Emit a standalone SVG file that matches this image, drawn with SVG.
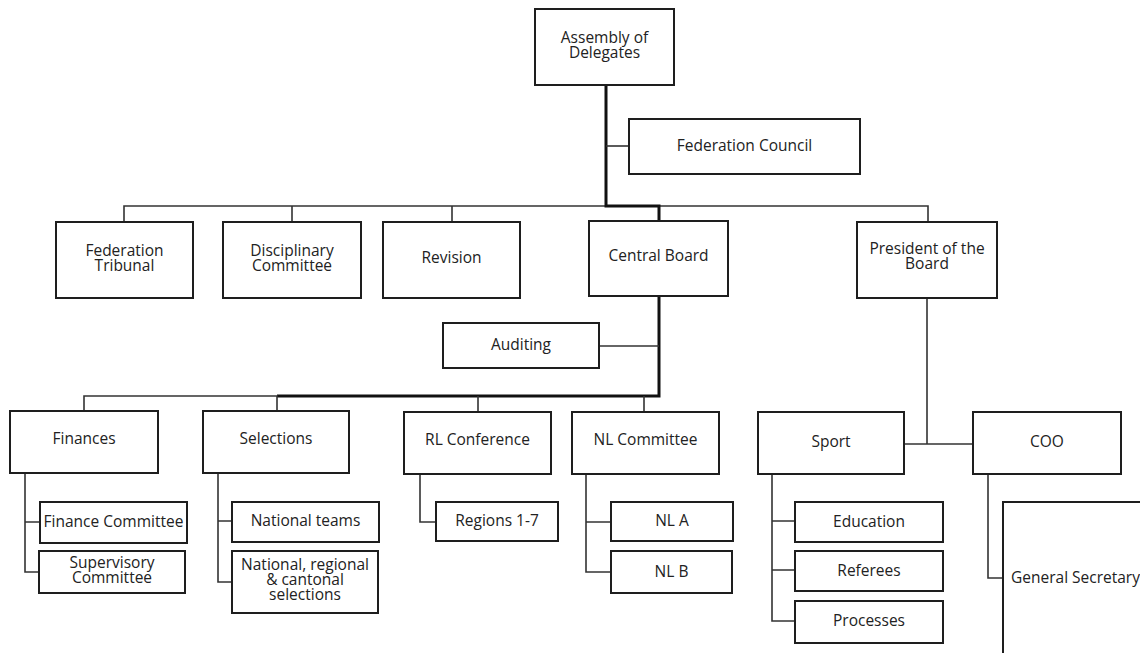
<svg xmlns="http://www.w3.org/2000/svg" width="1140" height="653" viewBox="0 0 1140 653">
<style>
.b{fill:#fff;stroke:#1e1e1e;stroke-width:2}
.t{font-family:"Open Sans","Noto Sans","DejaVu Sans",sans-serif;font-size:15.5px;fill:#222;text-anchor:middle}
.tl{font-family:"Open Sans","Noto Sans","DejaVu Sans",sans-serif;font-size:15.5px;fill:#222}
.c{fill:none;stroke:#333;stroke-width:1.6}
.k{fill:none;stroke:#111;stroke-width:3}
</style>
<rect width="1140" height="653" fill="#fff"/>
<g id="connectors">
<path class="c" d="M124,222V206H606M659,206H928V222M292,206V222M452,206V222"/>
<path class="k" d="M606,85V206H659V221"/>
<path class="c" d="M606,146H629"/>
<path class="k" d="M659,296V396H277"/>
<path class="c" d="M599,346H659"/>
<path class="c" d="M84,411V396H277V411M478,396V412M644,396V412"/>
<path class="c" d="M25,473V572H39M25,522H40"/>
<path class="c" d="M218,473V582H232M218,521H232"/>
<path class="c" d="M420,474V522H436"/>
<path class="c" d="M586,474V572H611M586,522H611"/>
<path class="c" d="M927,298V444M904,444H973"/>
<path class="c" d="M772,474V621H795M772,521H795M772,570H795"/>
<path class="c" d="M988,474V578H1003"/>
</g>
<g id="assembly"><rect class="b" x="535" y="9" width="139" height="76"/><text class="t" x="604.5" y="43">Assembly of<tspan x="604.5" dy="15">Delegates</tspan></text></g>
<g id="federation-council"><rect class="b" x="629" y="119" width="231" height="55"/><text class="t" x="744.5" y="151">Federation Council</text></g>
<g id="federation-tribunal"><rect class="b" x="56" y="222" width="137" height="76"/><text class="t" x="124.5" y="256">Federation<tspan x="124.5" dy="15">Tribunal</tspan></text></g>
<g id="disciplinary"><rect class="b" x="223" y="222" width="138" height="76"/><text class="t" x="292" y="256">Disciplinary<tspan x="292" dy="15">Committee</tspan></text></g>
<g id="revision"><rect class="b" x="383" y="222" width="137" height="76"/><text class="t" x="451.5" y="263">Revision</text></g>
<g id="central-board"><rect class="b" x="589" y="221" width="139" height="75"/><text class="t" x="658.5" y="261">Central Board</text></g>
<g id="president"><rect class="b" x="857" y="222" width="140" height="76"/><text class="t" x="927" y="254">President of the<tspan x="927" dy="15">Board</tspan></text></g>
<g id="auditing"><rect class="b" x="443" y="323" width="156" height="45"/><text class="t" x="521" y="350">Auditing</text></g>
<g id="finances"><rect class="b" x="10" y="411" width="148" height="62"/><text class="t" x="84" y="444">Finances</text></g>
<g id="selections"><rect class="b" x="203" y="411" width="146" height="62"/><text class="t" x="276" y="444">Selections</text></g>
<g id="rl-conference"><rect class="b" x="404" y="412" width="147" height="62"/><text class="t" x="477.5" y="445">RL Conference</text></g>
<g id="nl-committee"><rect class="b" x="572" y="412" width="147" height="62"/><text class="t" x="645.5" y="445">NL Committee</text></g>
<g id="sport"><rect class="b" x="758" y="412" width="146" height="62"/><text class="t" x="831" y="447">Sport</text></g>
<g id="coo"><rect class="b" x="973" y="412" width="148" height="62"/><text class="t" x="1047" y="447">COO</text></g>
<g id="finance-committee"><rect class="b" x="40" y="502" width="147" height="41"/><text class="t" x="113.5" y="527">Finance Committee</text></g>
<g id="supervisory"><rect class="b" x="39" y="551" width="146" height="42"/><text class="t" x="112" y="568">Supervisory<tspan x="112" dy="15">Committee</tspan></text></g>
<g id="national-teams"><rect class="b" x="232" y="502" width="147" height="40"/><text class="t" x="305.5" y="526">National teams</text></g>
<g id="national-regional"><rect class="b" x="232" y="551" width="146" height="62"/><text class="t" x="305" y="570">National, regional<tspan x="305" dy="15">&amp; cantonal</tspan><tspan x="305" dy="14.5">selections</tspan></text></g>
<g id="regions"><rect class="b" x="436" y="502" width="122" height="39"/><text class="t" x="497" y="526">Regions 1-7</text></g>
<g id="nl-a"><rect class="b" x="611" y="502" width="122" height="39"/><text class="t" x="672" y="526">NL A</text></g>
<g id="nl-b"><rect class="b" x="611" y="551" width="121" height="42"/><text class="t" x="671.5" y="577">NL B</text></g>
<g id="education"><rect class="b" x="795" y="502" width="148" height="40"/><text class="t" x="869" y="527">Education</text></g>
<g id="referees"><rect class="b" x="795" y="551" width="148" height="40"/><text class="t" x="869" y="576">Referees</text></g>
<g id="processes"><rect class="b" x="795" y="601" width="148" height="42"/><text class="t" x="869" y="626">Processes</text></g>
<g id="general-secretary"><rect class="b" x="1003" y="502" width="200" height="200"/><text class="tl" x="1011" y="583">General Secretary</text></g>
</svg>
